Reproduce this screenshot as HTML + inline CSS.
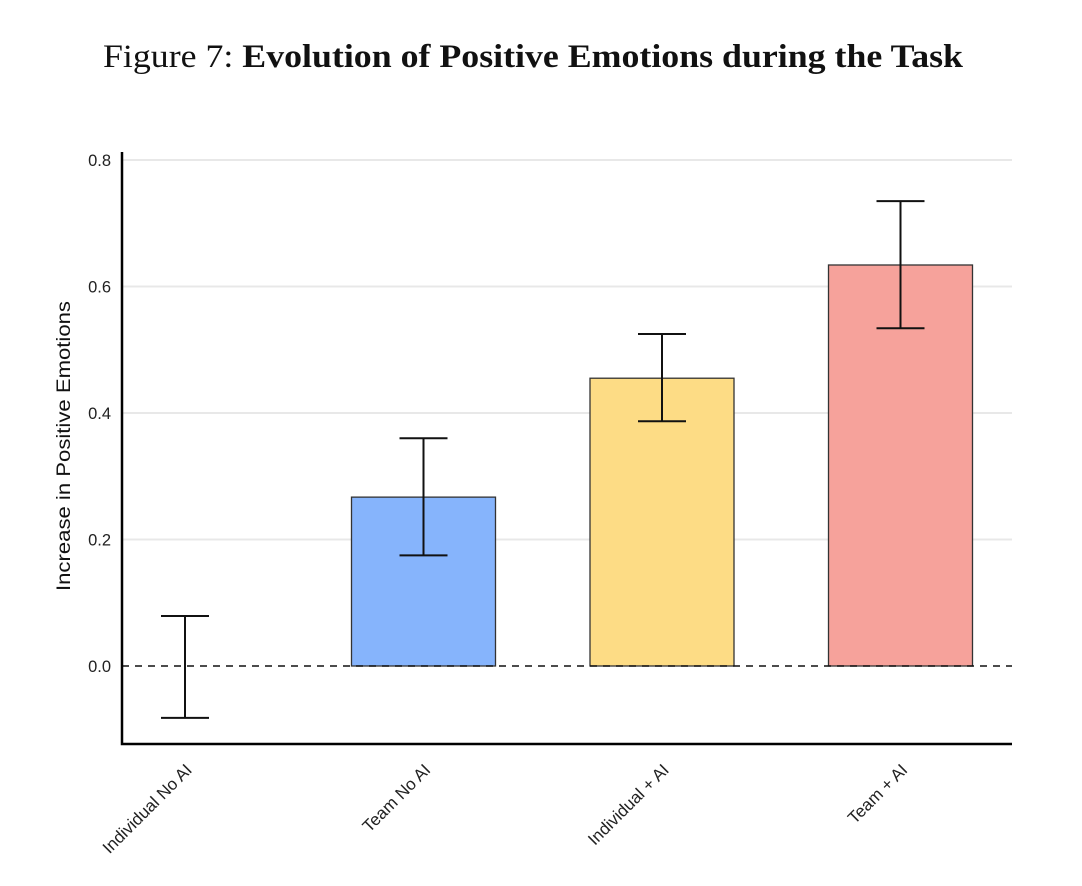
<!DOCTYPE html>
<html><head><meta charset="utf-8"><style>
body{margin:0;background:#fff;width:1082px;height:886px;overflow:hidden}
svg{display:block}
</style></head><body>
<svg width="1082" height="886" xmlns="http://www.w3.org/2000/svg">
<text x="533" y="67" text-anchor="middle" font-family="'Liberation Serif',serif" font-size="33" fill="#111" textLength="860" lengthAdjust="spacingAndGlyphs">Figure 7: <tspan font-weight="bold">Evolution of Positive Emotions during the Task</tspan></text>
<g id="plot"></g>
</svg>
<script>
const categories=["Individual No AI","Team No AI","Individual + AI","Team + AI"];
const values=[0,0.267,0.455,0.634];
const errLow=[-0.082,0.175,0.387,0.534];
const errHigh=[0.079,0.36,0.525,0.735];
const colors=["none","#86b4fc","#fddc85","#f6a29b"];
const yTicks=[0,0.2,0.4,0.6,0.8];
const tickLabels=["0.0","0.2","0.4","0.6","0.8"];
const NS="http://www.w3.org/2000/svg";
const g=document.getElementById('plot');
const x0=122,x1=1012,yTop=152,yBot=744;
function y(v){return 666-v*632.5;}
function xc(i){return 185+i*238.5;}
function mk(t,a,p){const e=document.createElementNS(NS,t);for(const k in a)e.setAttribute(k,a[k]);(p||g).appendChild(e);return e;}
yTicks.forEach((v,i)=>{
 if(v>0){const l=mk('line',{x1:x0,x2:x1,y1:y(v),y2:y(v),stroke:'#e8e8e8','stroke-width':2});
 
 }
 const t=mk('text',{x:111,y:y(v)+6,'text-anchor':'end','font-family':"'Liberation Sans',sans-serif",'font-size':16.5,fill:'#222'});
 t.textContent=tickLabels[i];
 
 
});
categories.forEach((c,i)=>{
 const cx=xc(i);
 if(values[i]!==0){
  const r=mk('rect',{x:cx-72,y:Math.min(y(values[i]),y(0)),width:144,height:Math.abs(y(values[i])-y(0)),fill:colors[i],stroke:'#333','stroke-width':1.3});
  
  
 }
 const eg=mk('g',{stroke:'#111','stroke-width':2});
 
 
 mk('line',{x1:cx,x2:cx,y1:y(errLow[i]),y2:y(errHigh[i])},eg);
 mk('line',{x1:cx-24,x2:cx+24,y1:y(errLow[i]),y2:y(errLow[i])},eg);
 mk('line',{x1:cx-24,x2:cx+24,y1:y(errHigh[i]),y2:y(errHigh[i])},eg);
 const t=mk('text',{x:cx+8,y:771,'text-anchor':'end','font-family':"'Liberation Sans',sans-serif",'font-size':17,fill:'#222',transform:`rotate(-45 ${cx+8} 771)`});
 t.textContent=c;
 
 
});
const z=mk('line',{x1:x0,x2:x1,y1:y(0),y2:y(0),stroke:'#111','stroke-width':1.5,'stroke-dasharray':'7,6'});


const ax=mk('path',{d:`M${x0} ${yTop}V${yBot}H${x1}`,fill:'none',stroke:'#000','stroke-width':2.5});


const yt=mk('text',{x:70,y:446,'text-anchor':'middle','font-family':"'Liberation Sans',sans-serif",'font-size':19,fill:'#111',textLength:290,lengthAdjust:'spacingAndGlyphs',transform:'rotate(-90 70 446)'});
yt.textContent='Increase in Positive Emotions';


</script>
</body></html>
